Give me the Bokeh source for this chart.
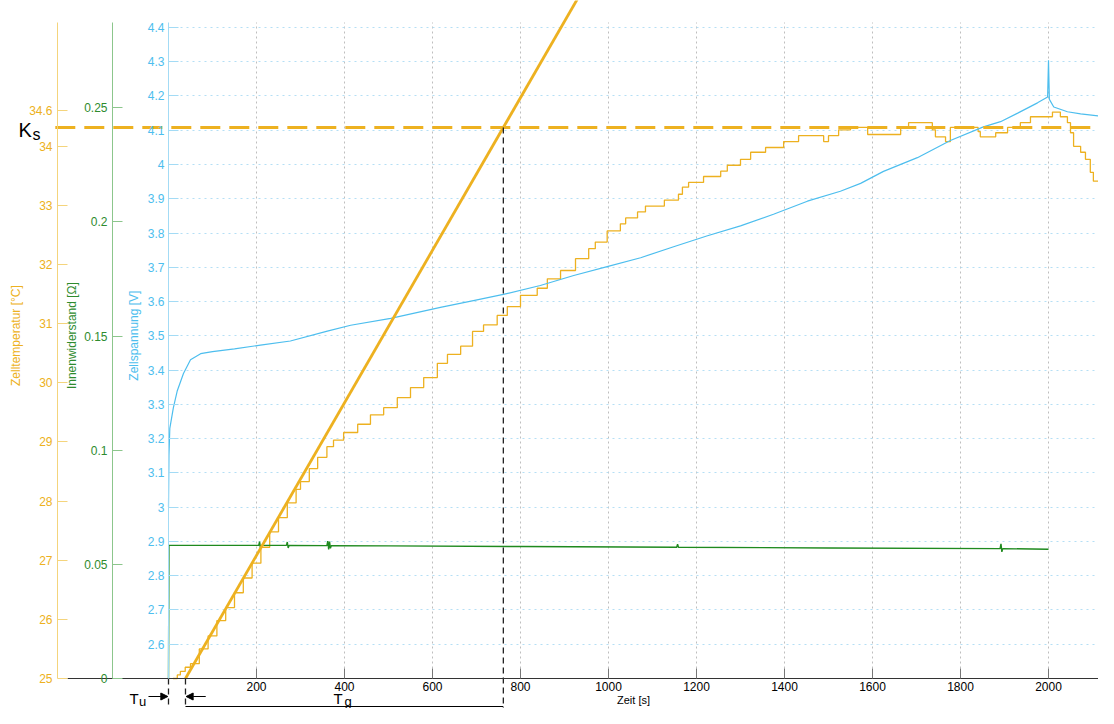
import math
from bokeh.plotting import figure
from bokeh.models import (Range1d, LinearAxis, FixedTicker, Grid, Label, Arrow,
                          NormalHead, CustomJSTickFormatter)
from bokeh.embed import file_html
from bokeh.resources import INLINE

# ---------------- data ----------------
time_temp = [10, 20, 27, 38, 50, 70, 90, 110, 130, 150, 170, 190, 210, 230, 250, 270,
             290, 300, 320, 339, 360, 375, 398, 430, 459, 489, 520, 550, 580, 611, 634,
             664, 691, 716, 747, 770, 800, 838, 861, 891, 925, 955, 970, 997, 1027, 1039,
             1066, 1084, 1127, 1159, 1168, 1182, 1216, 1255, 1270, 1300, 1323, 1357, 1398,
             1432, 1489, 1500, 1523, 1550, 1589, 1664, 1682, 1736, 1743, 1766, 1777, 1840,
             1845, 1880, 1907, 1936, 1959, 2009, 2027, 2043, 2050, 2057, 2073, 2084, 2095,
             2102, 2114, 2120]
temp_c = [25.0, 25.06, 25.12, 25.19, 25.25, 25.5, 25.72, 25.98, 26.2, 26.45, 26.7, 26.95,
          27.22, 27.48, 27.72, 27.97, 28.2, 28.33, 28.55, 28.74, 28.92, 29.03, 29.16, 29.30,
          29.46, 29.58, 29.75, 29.92, 30.09, 30.33, 30.48, 30.62, 30.87, 30.98, 31.14, 31.29,
          31.48, 31.60, 31.76, 31.90, 32.10, 32.27, 32.38, 32.57, 32.69, 32.79, 32.89, 32.99,
          33.09, 33.19, 33.31, 33.39, 33.49, 33.58, 33.68, 33.78, 33.90, 33.98, 34.08, 34.18,
          34.08, 34.18, 34.28, 34.32, 34.20, 34.32, 34.40, 34.28, 34.16, 34.08, 34.32, 34.25,
          34.16, 34.23, 34.32, 34.40, 34.50, 34.58, 34.50, 34.40, 34.23, 34.00, 33.90, 33.78,
          33.56, 33.41, 33.31, 33.31]

time_volt = [0, 1, 3, 11, 20, 34, 50, 73, 100, 150, 209, 277, 361, 414, 505, 618, 693, 761,
             845, 921, 997, 1073, 1148, 1225, 1300, 1375, 1452, 1527, 1573, 1625, 1702, 1777,
             1852, 1891, 1930, 1975, 1998, 2000, 2002, 2012, 2043, 2073, 2114]
volt_v = [3.0, 3.15, 3.23, 3.29, 3.34, 3.39, 3.43, 3.448, 3.454, 3.462, 3.473, 3.485, 3.514,
          3.531, 3.551, 3.583, 3.603, 3.621, 3.647, 3.676, 3.702, 3.728, 3.760, 3.792, 3.821,
          3.855, 3.893, 3.922, 3.945, 3.98, 4.02, 4.07, 4.11, 4.125, 4.15, 4.18, 4.197, 4.304,
          4.19, 4.168, 4.154, 4.148, 4.142]

time_res = [0, 1, 205, 207, 209, 211, 268, 270, 272, 274, 360, 362, 364, 366, 368, 370, 500,
            800, 1155, 1157, 1159, 1500, 1890, 1892, 1894, 1896, 2000]
res_ohm = [0.0, 0.0583, 0.0583, 0.0600, 0.0570, 0.0583, 0.0583, 0.0598, 0.0572, 0.0583,
           0.0582, 0.0602, 0.0566, 0.0600, 0.0570, 0.0582, 0.0581, 0.0578, 0.0575, 0.0588,
           0.0575, 0.0572, 0.0569, 0.0590, 0.0555, 0.0569, 0.0566]

# step-response characteristic values
T_start = 25.0
Ks = 34.32
Tu = 38.6
Tg = 722.4

x_ticks = [200, 400, 600, 800, 1000, 1200, 1400, 1600, 1800, 2000]
temp_ticks = [25, 26, 27, 28, 29, 30, 31, 32, 33, 34, 34.6]
res_ticks = [0, 0.05, 0.1, 0.15, 0.2, 0.25]
volt_ticks = [2.6, 2.7, 2.8, 2.9, 3.0, 3.1, 3.2, 3.3, 3.4, 3.5, 3.6, 3.7, 3.8, 3.9, 4.0,
              4.1, 4.2, 4.3, 4.4]

# ---------------- styling ----------------
YEL = "#EDB120"
YEL_AX = "#F4D47C"
GRN = "#1F8A1F"
GRN_TXT = "#2E8B2E"
GRN_AX = "#8CC68C"
BLU = "#4DBEEE"
BLU_AX = "#A3DBF5"
FONT = "Liberation Sans"

# layout (data-space extents of the canvas)
x_lo, x_hi = -381.818, 2113.636
t_lo, t_hi = 24.4927, 36.4663
v_lo, v_hi = 2.41245, 4.47869
r_lo, r_hi = -0.013143, 0.297030
t_axis_top, v_axis_top, r_axis_top = 36.0942, 4.41449, 0.287391
loc_temp_axis, loc_res_axis, loc_volt_axis = -252.27, -127.27, 0.0
x_axis_left, x_axis_right = -229.5, 2125.0

p = figure(width=1098, height=708, x_range=Range1d(x_lo, x_hi), y_range=Range1d(t_lo, t_hi),
           x_axis_type=None, y_axis_type=None, output_backend="svg", toolbar_location=None,
           min_border=0, outline_line_color=None)
p.extra_y_ranges = {"volt": Range1d(v_lo, v_hi), "res": Range1d(r_lo, r_hi)}

fmt = CustomJSTickFormatter(code="return String(Math.round(tick*1000)/1000);")


def style(ax, line_color, text_color):
    ax.axis_line_color = line_color
    ax.major_tick_line_color = line_color
    ax.minor_tick_line_color = None
    ax.major_tick_in = 10
    ax.major_tick_out = 0
    ax.major_label_text_color = text_color
    ax.major_label_text_font = FONT
    ax.major_label_text_font_size = "12px"
    ax.major_label_standoff = 5
    ax.axis_label_text_color = text_color
    ax.axis_label_text_font = FONT
    ax.axis_label_text_font_size = "12px"
    ax.axis_label_text_font_style = "normal"
    ax.formatter = fmt


# grids (bounded like the reference)
try:
    vgrid = Grid(dimension=0, ticker=FixedTicker(ticks=x_ticks),
                 cross_bounds=(T_start, t_axis_top))
    hgrid = Grid(dimension=1, y_range_name="volt", ticker=FixedTicker(ticks=volt_ticks),
                 cross_bounds=(0, 2118))
    for g, c, d in ((vgrid, "#BEBEBE", "2 3"), (hgrid, "#B5DFF5", "2 4")):
        g.grid_line_color = c
        g.grid_line_dash = d
        g.grid_line_width = 1
        p.add_layout(g)
except Exception:
    p.segment(x0=x_ticks, y0=[T_start] * len(x_ticks), x1=x_ticks, y1=[t_axis_top] * len(x_ticks),
              line_color="#BEBEBE", line_dash="2 3", line_width=1)
    p.segment(x0=[0] * len(volt_ticks), y0=volt_ticks, x1=[2118] * len(volt_ticks), y1=volt_ticks,
              line_color="#B5DFF5", line_dash="2 4", line_width=1, y_range_name="volt")

# axes
xax = LinearAxis(ticker=FixedTicker(ticks=x_ticks), bounds=(0, x_axis_right),
                 fixed_location=T_start, axis_label="Zeit [s]")
style(xax, "#333333", "black")
xax.major_tick_line_color = "#777777"
xax.major_label_standoff = 3
xax.axis_label_standoff = 0
xax.axis_label_text_font_size = "11px"
p.add_layout(xax, "below")

xstub = LinearAxis(ticker=FixedTicker(ticks=[]), bounds=(x_axis_left, 0), fixed_location=T_start)
xstub.axis_line_color = "#333333"
xstub.major_label_text_font_size = "0px"
xstub.minor_tick_line_color = None
p.add_layout(xstub, "below")

yax_t = LinearAxis(ticker=FixedTicker(ticks=temp_ticks), bounds=(T_start, t_axis_top),
                   fixed_location=loc_temp_axis)
style(yax_t, YEL_AX, YEL)
p.add_layout(yax_t, "left")

yax_r = LinearAxis(y_range_name="res", ticker=FixedTicker(ticks=res_ticks), bounds=(0, r_axis_top),
                   fixed_location=loc_res_axis)
style(yax_r, GRN_AX, GRN_TXT)
p.add_layout(yax_r, "left")

yax_v = LinearAxis(y_range_name="volt", ticker=FixedTicker(ticks=volt_ticks),
                   bounds=(2.5, v_axis_top), fixed_location=loc_volt_axis)
style(yax_v, BLU_AX, BLU)
yax_v.major_label_standoff = 4
p.add_layout(yax_v, "left")

# axis titles (rotated, placed like the reference)
title_y = 30.799
for txt, x, col in (("Zelltemperatur [°C]", -345.5, YEL),
                    ("Innenwiderstand [Ω]", -218.2, GRN_TXT),
                    ("Zellspannung [V]", -79.5, BLU)):
    p.add_layout(Label(x=x, y=title_y, text=txt, angle=math.pi / 2, text_align="center",
                       text_baseline="middle", text_font=FONT, text_font_size="12px",
                       text_color=col))

# series
p.step(time_temp, temp_c, mode="after", line_color=YEL, line_width=1.3)
p.line(time_volt, volt_v, line_color=BLU, line_width=1.2, y_range_name="volt")
p.line(time_res, res_ohm, line_color=GRN, line_width=1.4, y_range_name="res")

# tangent (inflection tangent) and Ks line
slope = (Ks - T_start) / Tg
t_top = Tu + (t_hi + 0.2 - T_start) / slope
p.line([Tu, t_top], [T_start, t_hi + 0.2], line_color=YEL, line_width=2.8)
p.line([loc_temp_axis - 5, x_hi], [Ks, Ks], line_color=YEL, line_width=3, line_dash="20 9")

# dashed helper lines
p.segment(x0=[0, Tu, Tu + Tg], y0=[T_start, T_start, Ks], x1=[0, Tu, Tu + Tg],
          y1=[t_lo - 0.2] * 3, line_color="#222222", line_width=1.3, line_dash="6 4")

# Tu / Tg annotation
arrow_y = 24.6956
p.add_layout(Arrow(end=NormalHead(size=7, fill_color="black", line_color="black"),
                   x_start=-45.5, y_start=arrow_y, x_end=-1.5, y_end=arrow_y,
                   line_color="black", line_width=1.2))
p.add_layout(Arrow(end=NormalHead(size=7, fill_color="black", line_color="black"),
                   x_start=Tu + 46, y_start=arrow_y, x_end=Tu + 1.5, y_end=arrow_y,
                   line_color="black", line_width=1.2))
p.segment(x0=[Tu], y0=[24.5265], x1=[Tu + Tg], y1=[24.5265], line_color="black", line_width=1.2)

for txt, x, y, size in (("K", -341, 34.279, "20px"), ("s", -309, 34.207, "16px"),
                        ("T", -88.6, 24.6652, "15px"), ("u", -67, 24.6195, "13px"),
                        ("T", 375, 24.6652, "15px"), ("g", 400, 24.6195, "13px")):
    p.add_layout(Label(x=x, y=y, text=txt, text_font=FONT, text_font_size=size,
                       text_color="black", text_baseline="middle"))

open("out.html", "w").write(file_html(p, INLINE))
